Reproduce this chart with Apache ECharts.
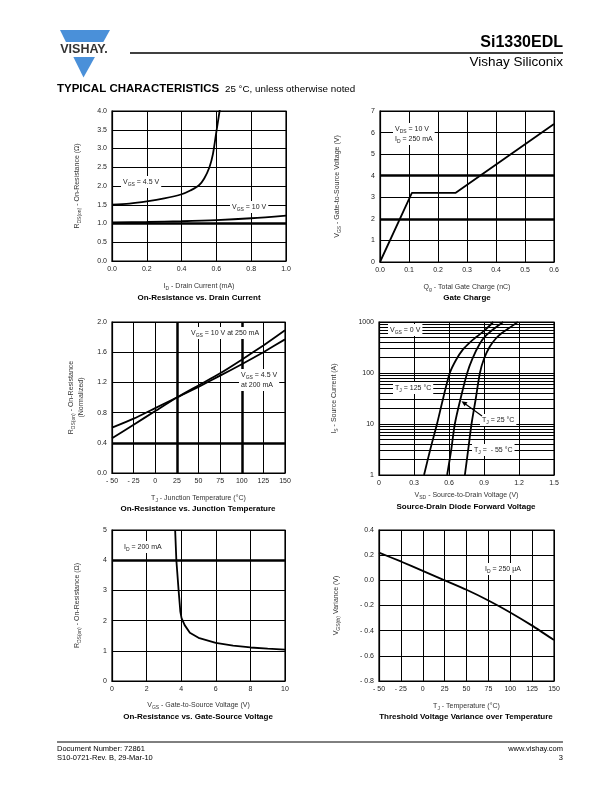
<!DOCTYPE html>
<html>
<head>
<meta charset="utf-8">
<script src="https://cdn.jsdelivr.net/npm/echarts@6/dist/echarts.min.js"></script>
<style>
html, body { margin: 0; padding: 0; background: #fff; }
#page { width: 612px; height: 792px; }
</style>
</head>
<body>
<div id="page"></div>
<script>
// On-Resistance vs. Drain Current
const rds45 = [[0, 1.5], [0.1, 1.53], [0.2, 1.59], [0.3, 1.67], [0.4, 1.78], [0.45, 1.88], [0.5, 2.02], [0.53, 2.2], [0.56, 2.5], [0.58, 2.85], [0.6, 3.45], [0.62, 4.05]]
const rds10 = [[0, 1.03], [0.2, 1.04], [0.4, 1.06], [0.6, 1.09], [0.8, 1.14], [1.0, 1.21]]
const xLab1 = ['0.0', '0.2', '0.4', '0.6', '0.8', '1.0']
const yLab1 = ['0.0', '0.5', '1.0', '1.5', '2.0', '2.5', '3.0', '3.5', '4.0']
const thickY1 = [1.0]

// Gate Charge
const gate = [[0, 0], [0.11, 3.2], [0.26, 3.2], [0.6, 6.4]]
const xLab2 = ['0.0', '0.1', '0.2', '0.3', '0.4', '0.5', '0.6']
const yLab2 = ['0', '1', '2', '3', '4', '5', '6', '7']
const thickY2 = [2, 4]

// On-Resistance vs. Junction Temperature
const tj = [-50, -25, 0, 25, 50, 75, 100, 125, 150]
const rn10 = [0.46, 0.64, 0.82, 1.0, 1.16, 1.32, 1.5, 1.69, 1.89]
const rn45 = [0.6, 0.72, 0.86, 1.0, 1.14, 1.29, 1.44, 1.6, 1.77]
const xLab3 = ['- 50', '- 25', '0', '25', '50', '75', '100', '125', '150']
const yLab3 = ['0.0', '0.4', '0.8', '1.2', '1.6', '2.0']
const thickX3 = [25, 100]
const thickY3 = [0.4]

// Source-Drain Diode Forward Voltage
const sd125 = [[0.386, 1], [0.44, 3.2], [0.497, 10], [0.55, 32], [0.607, 100], [0.66, 180], [0.72, 290], [0.78, 400], [0.84, 520], [0.91, 700], [0.98, 1000]]
const sd25 = [[0.584, 1], [0.62, 3.2], [0.65, 10], [0.7, 32], [0.756, 100], [0.8, 190], [0.865, 380], [0.92, 550], [0.98, 720], [1.065, 1000]]
const sd55 = [[0.736, 1], [0.765, 3.2], [0.793, 10], [0.83, 32], [0.865, 100], [0.9, 190], [0.95, 330], [1.0, 470], [1.05, 600], [1.1, 720], [1.19, 1000]]
const xLab4 = ['0', '0.3', '0.6', '0.9', '1.2', '1.5']
const yLab4 = ['1', '10', '100', '1000']
const minorY4 = [2, 3, 4, 5, 6, 7, 8, 9, 20, 30, 40, 50, 60, 70, 80, 90, 200, 300, 400, 500, 600, 700, 800, 900]

// On-Resistance vs. Gate-Source Voltage
const vgsR = [[3.65, 5], [3.72, 4], [3.85, 3], [3.95, 2.3], [4.02, 2.08], [4.2, 1.85], [4.5, 1.6], [5, 1.43], [6, 1.26], [7, 1.17], [8, 1.11], [9, 1.07], [10, 1.04]]
const xLab5 = ['0', '2', '4', '6', '8', '10']
const yLab5 = ['0', '1', '2', '3', '4', '5']
const thickY5 = [4]

// Threshold Voltage Variance over Temperature
const vth = [0.22, 0.15, 0.075, 0, -0.075, -0.16, -0.255, -0.36, -0.475]
const xLab6 = ['- 50', '- 25', '0', '25', '50', '75', '100', '125', '150']
const yLab6 = ['- 0.8', '- 0.6', '- 0.4', '- 0.2', '0.0', '0.2', '0.4']

const FF = 'Liberation Sans, Arial, Helvetica, sans-serif'
const rich = {
    n: {fontSize: 7, fontFamily: FF, color: '#333', lineHeight: 10, verticalAlign: 'middle'},
    s: {fontSize: 5, fontFamily: FF, color: '#333', lineHeight: 10, verticalAlign: 'bottom'}
}
const nameStyle = {fontSize: 7, fontFamily: FF, color: '#333', rich: rich}

function ax(gi, min, max, step, labels, name, gap, extra) {
    return Object.assign({
        type: 'value', gridIndex: gi, min: min, max: max, interval: step,
        name: name, nameLocation: 'middle', nameGap: gap, nameTextStyle: nameStyle,
        axisLine: {show: true, onZero: false, lineStyle: {color: '#000', width: 1.2}},
        axisTick: {show: false},
        splitLine: {show: true, lineStyle: {color: '#000', width: 1}},
        axisLabel: {formatter: (v, i) => labels[i], fontSize: 7, color: '#222', margin: 5, fontFamily: FF}
    }, extra || {})
}

function thick(xs, ys, w) {
    const d = []
    xs.forEach(v => d.push({xAxis: v}))
    ys.forEach(v => d.push({yAxis: v}))
    return {silent: true, symbol: ['none', 'none'], label: {show: false}, animation: false,
        lineStyle: {color: '#000', width: w || 2.5, type: 'solid'}, data: d}
}

function line(gi, data, smooth, ml) {
    const s = {type: 'line', xAxisIndex: gi, yAxisIndex: gi, data: data, showSymbol: false,
        smooth: smooth, lineStyle: {color: '#000', width: 1.8}, animation: false}
    if (ml) s.markLine = ml
    return s
}

function txt(x, y, text, opt) {
    return {type: 'text', x: x, y: y, silent: true, z: 100,
        style: Object.assign({text: text, fontSize: 7, fontFamily: FF, fill: '#222',
            align: 'left', verticalAlign: 'middle', textAlign: 'left', textVerticalAlign: 'middle', rich: rich}, opt || {})}
}
function ann(x, y, text) {
    return txt(x, y, text, {backgroundColor: '#fff', padding: [1, 2]})
}
function ctitle(x, y, text) {
    return txt(x, y, text, {fontSize: 8, fontWeight: 'bold', fill: '#000', align: 'center', textAlign: 'center'})
}

const grids = [
    {left: 112, top: 111, width: 174, height: 150},
    {left: 380, top: 111, width: 174, height: 151},
    {left: 112, top: 322, width: 173, height: 151},
    {left: 379, top: 322, width: 175, height: 153},
    {left: 112, top: 530, width: 173, height: 151},
    {left: 379, top: 530, width: 175, height: 151}
].map(g => Object.assign(g, {show: true, borderColor: '#000', borderWidth: 1.2, backgroundColor: '#fff'}))

const xAxes = [
    ax(0, 0, 1, 0.2, xLab1, '{n|I}{s|D}{n| - Drain Current (mA)}', 20),
    ax(1, 0, 0.6, 0.1, xLab2, '{n|Q}{s|g}{n| - Total Gate Charge (nC)}', 20),
    ax(2, -50, 150, 25, xLab3, '{n|T}{s|J}{n| - Junction Temperature (°C)}', 20),
    ax(3, 0, 1.5, 0.3, xLab4, '{n|V}{s|SD}{n| - Source-to-Drain Voltage (V)}', 15),
    ax(4, 0, 10, 2, xLab5, '{n|V}{s|GS}{n| - Gate-to-Source Voltage (V)}', 19),
    ax(5, -50, 150, 25, xLab6, '{n|T}{s|J}{n| - Temperature (°C)}', 20)
]
const yAxes = [
    ax(0, 0, 4, 0.5, yLab1, '{n|R}{s|DS(on)}{n| - On-Resistance (Ω)}', 30, {nameRotate: 90}),
    ax(1, 0, 7, 1, yLab2, '{n|V}{s|GS}{n| - Gate-to-Source Voltage (V)}', 38, {nameRotate: 90}),
    ax(2, 0, 2, 0.4, yLab3, '{n|R}{s|DS(on)}{n| - On-Resistance}\n{n|(Normalized)}', 26, {nameRotate: 90}),
    ax(3, 1, 1000, null, yLab4, '{n|I}{s|S}{n| - Source Current (A)}', 40, {type: 'log', logBase: 10, interval: undefined, nameRotate: 90}),
    ax(4, 0, 5, 1, yLab5, '{n|R}{s|DS(on)}{n| - On-Resistance (Ω)}', 30, {nameRotate: 90}),
    ax(5, -0.8, 0.4, 0.2, yLab6, '{n|V}{s|GS(th)}{n| Variance (V)}', 38, {nameRotate: 90})
]

const series = [
    line(0, rds45, 0.3, thick([], thickY1)),
    line(0, rds10, 0.3),
    line(1, gate, false, thick([], thickY2)),
    line(2, tj.map((t, i) => [t, rn10[i]]), 0.2, thick(thickX3, thickY3)),
    line(2, tj.map((t, i) => [t, rn45[i]]), 0.2),
    line(3, sd125, 0.3, thick([], minorY4, 1)),
    line(3, sd25, 0.3),
    line(3, sd55, 0.3),
    line(4, vgsR, false, thick([], thickY5)),
    line(5, tj.map((t, i) => [t, vth[i]]), 0.2)
]

const graphic = [
    // logo
    {type: 'polygon', shape: {points: [[60, 30], [110, 30], [83.5, 77.5]]}, style: {fill: '#4a90d9'}, silent: true},
    {type: 'rect', shape: {x: 55, y: 42, width: 60, height: 15}, style: {fill: '#fff'}, silent: true},
    txt(84, 50, 'VISHAY.', {fontSize: 12.5, fontWeight: 900, fill: '#333', align: 'center', textAlign: 'center', rich: null}),
    // header
    {type: 'line', shape: {x1: 130, y1: 53, x2: 563, y2: 53}, style: {stroke: '#000', lineWidth: 1.3}, silent: true},
    txt(563, 43, 'Si1330EDL', {fontSize: 16, fontWeight: 'bold', fill: '#000', align: 'right', textAlign: 'right', rich: null}),
    txt(563, 62, 'Vishay Siliconix', {fontSize: 13.5, fill: '#000', align: 'right', textAlign: 'right', rich: null}),
    txt(57, 89, 'TYPICAL CHARACTERISTICS', {fontSize: 11.5, fontWeight: 900, fill: '#000', rich: null}),
    txt(225, 89, '25 °C, unless otherwise noted', {fontSize: 9.8, fill: '#000', rich: null}),
    // footer
    {type: 'line', shape: {x1: 57, y1: 742, x2: 563, y2: 742}, style: {stroke: '#000', lineWidth: 1}, silent: true},
    txt(57, 749, 'Document Number: 72861', {fontSize: 7.5, fill: '#000', rich: null}),
    txt(57, 758, 'S10-0721-Rev. B, 29-Mar-10', {fontSize: 7.5, fill: '#000', rich: null}),
    txt(563, 749, 'www.vishay.com', {fontSize: 7.5, fill: '#000', align: 'right', textAlign: 'right', rich: null}),
    txt(563, 758, '3', {fontSize: 7.5, fill: '#000', align: 'right', textAlign: 'right', rich: null}),
    // chart titles
    ctitle(199, 298, 'On-Resistance vs. Drain Current'),
    ctitle(467, 298, 'Gate Charge'),
    ctitle(198, 509, 'On-Resistance vs. Junction Temperature'),
    ctitle(466, 507, 'Source-Drain Diode Forward Voltage'),
    ctitle(198, 717, 'On-Resistance vs. Gate-Source Voltage'),
    ctitle(466, 717, 'Threshold Voltage Variance over Temperature'),
    // annotations
    ann(121, 182, '{n|V}{s|GS}{n| = 4.5 V}'),
    ann(230, 207, '{n|V}{s|GS}{n| = 10 V}'),
    ann(393, 134, '{n|V}{s|DS}{n| = 10 V}\n{n|I}{s|D}{n| = 250 mA}'),
    ann(189, 333, '{n|V}{s|GS}{n| = 10 V at 250 mA}'),
    ann(239, 380, '{n|V}{s|GS}{n| = 4.5 V}\n{n|at 200 mA}'),
    ann(388, 330, '{n|V}{s|GS}{n| = 0 V}'),
    ann(393, 388, '{n|T}{s|J}{n| = 125 °C}'),
    ann(480, 420, '{n|T}{s|J}{n| = 25 °C}'),
    ann(472, 450, '{n|T}{s|J}{n| =  - 55 °C}'),
    {type: 'line', shape: {x1: 482, y1: 416, x2: 464, y2: 403}, style: {stroke: '#000', lineWidth: 1.2}, silent: true, z: 101},
    {type: 'polygon', shape: {points: [[461.5, 401.2], [467.5, 402.2], [464.6, 406.2]]}, style: {fill: '#000'}, silent: true, z: 101},
    ann(122, 547, '{n|I}{s|D}{n| = 200 mA}'),
    ann(483, 569, '{n|I}{s|D}{n| = 250 µA}')
]

const chart = echarts.init(document.getElementById('page'), null, {renderer: 'canvas'})
chart.setOption({
    animation: false,
    backgroundColor: '#fff',
    grid: grids,
    xAxis: xAxes,
    yAxis: yAxes,
    series: series,
    graphic: graphic
})
</script>
</body>
</html>
